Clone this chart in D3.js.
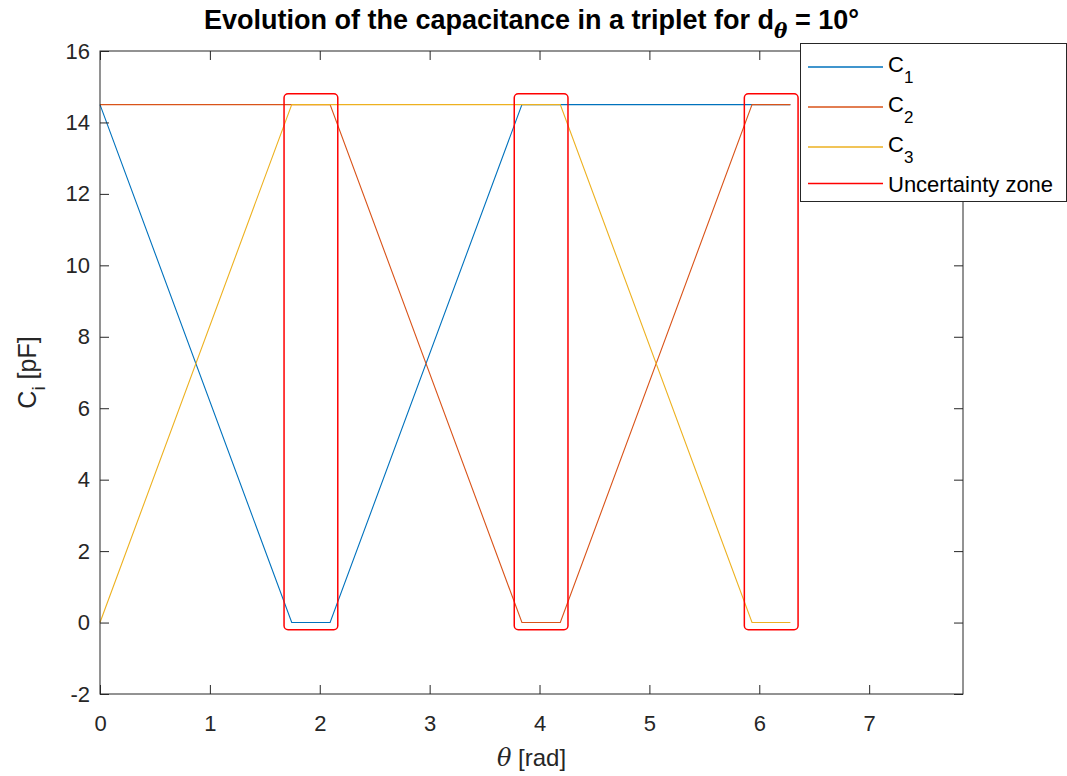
<!DOCTYPE html>
<html><head><meta charset="utf-8">
<script src="https://cdn.jsdelivr.net/npm/d3@7"></script>
<style>body{margin:0;background:#fff} text{font-family:"Liberation Sans",Arial,Helvetica,sans-serif;fill:#262626}</style>
</head><body><svg id="c" width="1067" height="776"></svg>
<script>
// ---- data ----
const theta = [0, 1.745, 2.094, 3.840, 4.189, 5.934, 6.283];
const C1 = [14.5, 0, 0, 14.5, 14.5, 14.5, 14.5];
const C2 = [14.5, 14.5, 14.5, 0, 0, 14.5, 14.5];
const C3 = [0, 14.5, 14.5, 14.5, 14.5, 0, 0];
const zoneStart = [1.675, 3.770, 5.864];
const zoneEnd = [2.164, 4.259, 6.353];
const zoneLow = [-0.2, -0.2, -0.2];
const zoneHigh = [14.8, 14.8, 14.8];
const xTicks = [0, 1, 2, 3, 4, 5, 6, 7];
const yTicks = [-2, 0, 2, 4, 6, 8, 10, 12, 14, 16];
const xDomain = [0, 7.854];
const yDomain = [-2, 16];
const seriesNames = ["1", "2", "3"];
const colors = ["#0072BD", "#D95319", "#EDB120"];

// ---- layout ----
const L = 100, R = 963, T = 51, B = 694;
const svg = d3.select("#c");
const x = d3.scaleLinear().domain(xDomain).range([L, R]);
const y = d3.scaleLinear().domain(yDomain).range([B, T]);
const axisColor = "#262626";

svg.append("rect").attr("x", L).attr("y", T).attr("width", R - L).attr("height", B - T).attr("fill", "#fff");

// series
const series = [C1, C2, C3];
const line = d3.line().x(d => x(d[0])).y(d => y(d[1]));
series.forEach((s, i) => {
  svg.append("path").datum(theta.map((t, j) => [t, s[j]]))
    .attr("d", line).attr("fill", "none").attr("stroke", colors[i]).attr("stroke-width", 1.1);
});

// uncertainty zones
zoneStart.forEach((z, i) => {
  svg.append("rect")
    .attr("x", x(z)).attr("y", y(zoneHigh[i]))
    .attr("width", x(zoneEnd[i]) - x(z)).attr("height", y(zoneLow[i]) - y(zoneHigh[i]))
    .attr("rx", 4).attr("ry", 4)
    .attr("fill", "none").attr("stroke", "#FF0000").attr("stroke-width", 1.5);
});

// axes
const fmt = d => String(d);
function styleAxis(g) {
  g.attr("font-size", null).attr("font-family", null);
  g.select(".domain").remove();
  g.selectAll(".tick line").attr("stroke", axisColor).attr("stroke-width", 1);
  g.selectAll("text").style("font-size", "22px").attr("fill", axisColor);
}
svg.append("g").attr("transform", `translate(0,${B})`)
  .call(d3.axisBottom(x).tickValues(xTicks).tickFormat(fmt).tickSizeInner(-9).tickSizeOuter(0).tickPadding(21))
  .call(styleAxis);
svg.append("g").attr("transform", `translate(0,${T})`)
  .call(d3.axisTop(x).tickValues(xTicks).tickFormat("").tickSizeInner(-9).tickSizeOuter(0))
  .call(styleAxis);
svg.append("g").attr("transform", `translate(${L},0)`)
  .call(d3.axisLeft(y).tickValues(yTicks).tickFormat(fmt).tickSizeInner(-9).tickSizeOuter(0).tickPadding(10))
  .call(styleAxis);
svg.append("g").attr("transform", `translate(${R},0)`)
  .call(d3.axisRight(y).tickValues(yTicks).tickFormat("").tickSizeInner(-9).tickSizeOuter(0))
  .call(styleAxis);
svg.append("rect").attr("x", L).attr("y", T).attr("width", R - L).attr("height", B - T)
  .attr("fill", "none").attr("stroke", axisColor).attr("stroke-width", 1);

// title
const title = svg.append("text").attr("x", (L + R) / 2).attr("y", 29).attr("text-anchor", "middle")
  .style("font-size", "27px").attr("font-weight", "bold").style("fill", "#000");
title.append("tspan").text("Evolution of the capacitance in a triplet for d");
title.append("tspan").attr("dy", 9).style("font-size", "20px").attr("font-style", "italic").style("font-family", "DejaVu Serif").text("θ");
title.append("tspan").attr("dy", -9).text(" = 10°");

// axis labels
const xl = svg.append("text").attr("x", (L + R) / 2).attr("y", 766).attr("text-anchor", "middle").style("font-size", "24px");
xl.append("tspan").attr("font-style", "italic").style("font-family", "DejaVu Serif").text("θ");
xl.append("tspan").text(" [rad]");
const yl = svg.append("text").attr("transform", `translate(36,${(T + B) / 2}) rotate(-90)`).attr("text-anchor", "middle").style("font-size", "25px");
yl.append("tspan").text("C");
yl.append("tspan").attr("dy", 9).style("font-size", "19px").text("i");
yl.append("tspan").attr("dy", -9).text(" [pF]");

// legend
const lg = svg.append("g");
lg.append("rect").attr("x", 800.5).attr("y", 43.5).attr("width", 266).attr("height", 158)
  .attr("fill", "#fff").attr("stroke", axisColor).attr("stroke-width", 1);
const legendItems = seriesNames.map((n, i) => ({sub: n, color: colors[i]}))
  .concat([{label: "Uncertainty zone", color: "#FF0000"}]);
const rowY = [67, 107, 147, 183.5];
const textY = [72, 112, 152, 192];
legendItems.forEach((d, i) => {
  lg.append("line").attr("x1", 808).attr("x2", 883).attr("y1", rowY[i]).attr("y2", rowY[i])
    .attr("stroke", d.color).attr("stroke-width", 1.5);
  const t = lg.append("text").attr("x", 888).attr("y", textY[i]).style("font-size", "22px").style("fill", "#000");
  if (d.label) t.text(d.label);
  else {
    t.append("tspan").text("C");
    t.append("tspan").attr("dy", 11).style("font-size", "17px").text(d.sub);
  }
});
</script></body></html>
